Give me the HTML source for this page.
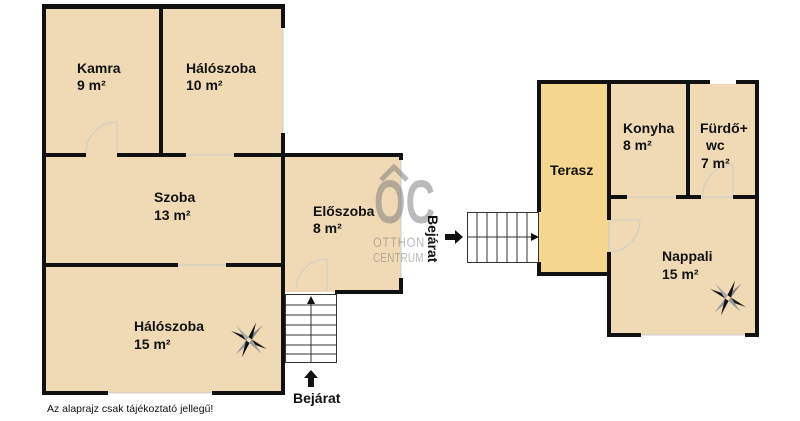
<!DOCTYPE html>
<html><head><meta charset="utf-8"><style>
html,body{margin:0;padding:0;background:#fff;width:800px;height:421px;overflow:hidden}
svg{display:block}
text{font-family:"Liberation Sans",Arial,sans-serif;font-weight:bold;font-size:14px;fill:#111}
</style></head><body>
<svg width="800" height="421" viewBox="0 0 800 421">
<defs>
<g id="comp">
<polygon points="0,-3 -16,-12 -3,0" fill="#111"/>
<polygon points="0,-3 16,-12 3,0" fill="#888"/>
<polygon points="3,0 16,12 0,3" fill="#111"/>
<polygon points="-3,0 -16,12 0,3" fill="#999"/>
<polygon points="-3,0 -10,-16 0,-3" fill="#aaa"/>
<polygon points="0,-3 10,-16 3,0" fill="#111"/>
<polygon points="3,0 10,16 0,3" fill="#999"/>
<polygon points="0,3 -10,16 -3,0" fill="#111"/>
</g>
</defs>
<rect x="44" y="6" width="239" height="387" fill="#f0dab6"/>
<rect x="283" y="155" width="118" height="137" fill="#f0dab6"/>
<rect x="539" y="82" width="70" height="192" fill="#f4d68e"/>
<rect x="609" y="82" width="148" height="253" fill="#f0dab6"/>

<g fill="#111">
<rect x="42" y="4" width="4" height="391"/>
<rect x="42" y="4" width="243" height="5"/>
<rect x="281" y="4" width="4" height="24"/>
<rect x="281" y="133" width="4" height="262"/>
<rect x="159" y="4" width="4" height="153"/>
<rect x="42" y="153" width="44" height="4"/>
<rect x="117" y="153" width="69" height="4"/>
<rect x="234" y="153" width="169" height="4"/>
<rect x="42" y="263" width="136" height="4"/>
<rect x="226" y="263" width="59" height="4"/>
<rect x="42" y="391" width="66" height="4"/>
<rect x="212" y="391" width="73" height="4"/>
<rect x="399" y="153" width="4" height="7"/>
<rect x="399" y="278" width="4" height="16"/>
<rect x="335" y="290" width="68" height="4"/>
<rect x="537" y="80" width="222" height="4"/>
<rect x="710" y="80" width="26" height="4" fill="#fff"/>
<rect x="537" y="80" width="4" height="132"/>
<rect x="537" y="262" width="4" height="14"/>
<rect x="537" y="272" width="74" height="4"/>
<rect x="755" y="80" width="4" height="257"/>
<rect x="607" y="80" width="4" height="140"/>
<rect x="607" y="252" width="4" height="85"/>
<rect x="686" y="80" width="4" height="119"/>
<rect x="607" y="195" width="20" height="4"/>
<rect x="676" y="195" width="25" height="4"/>
<rect x="733" y="195" width="26" height="4"/>
<rect x="607" y="333" width="34" height="4"/>
<rect x="745" y="333" width="14" height="4"/>
</g>
<g stroke="#ccc" stroke-width="1" fill="none">
<line x1="283" y1="28" x2="283" y2="133"/>
<line x1="401" y1="160" x2="401" y2="278"/>
<line x1="108" y1="393" x2="212" y2="393"/>
<line x1="178" y1="265" x2="226" y2="265"/>
<line x1="186" y1="155" x2="234" y2="155"/>
<line x1="641" y1="335" x2="745" y2="335"/>
<line x1="609" y1="220" x2="609" y2="252"/>
<line x1="627" y1="197" x2="676" y2="197"/>
<line x1="701" y1="197" x2="733" y2="197"/>
<path d="M86 153 A31 31 0 0 1 117 122 L117 153"/>
<path d="M296 290 A31 31 0 0 1 327 259 L327 290"/>
<path d="M611 252 A32 32 0 0 0 640 220 L611 220"/>
<path d="M703 195 A30 30 0 0 1 733 165 L733 195"/>
</g>
<rect x="285.5" y="294.5" width="51" height="68" fill="#fff" stroke="#333"/>
<g stroke="#333" stroke-width="1">
<line x1="311" y1="300" x2="311" y2="363"/>
<line x1="285" y1="305" x2="337" y2="305"/>
<line x1="285" y1="315" x2="337" y2="315"/>
<line x1="285" y1="325" x2="337" y2="325"/>
<line x1="285" y1="335" x2="337" y2="335"/>
<line x1="285" y1="345" x2="337" y2="345"/>
<line x1="285" y1="354" x2="337" y2="354"/>
</g>
<polygon points="311,296 307,304 315,304" fill="#111"/>
<rect x="467.5" y="212.5" width="71" height="50" fill="#fff" stroke="#333"/>
<g stroke="#333">
<line x1="467" y1="237" x2="533" y2="237"/>
<line x1="477" y1="212" x2="477" y2="263"/>
<line x1="487" y1="212" x2="487" y2="263"/>
<line x1="497" y1="212" x2="497" y2="263"/>
<line x1="507" y1="212" x2="507" y2="263"/>
<line x1="517" y1="212" x2="517" y2="263"/>
<line x1="527" y1="212" x2="527" y2="263"/>
</g>
<polygon points="539,237 531,233 531,241" fill="#111"/>
<polygon points="445,234 455,234 455,230 463,237 455,244 455,240 445,240" fill="#111"/>
<polygon points="308,387 308,378 304,378 311,370 318,378 314,378 314,387" fill="#111"/>
<use href="#comp" transform="translate(249,340) rotate(-10)"/>
<use href="#comp" transform="translate(728,298) rotate(-10)"/>
<g opacity="0.5">
<path d="M381 180 L394 167 L407 180" stroke="#777" stroke-width="5" fill="none"/>
<text transform="translate(374,223) scale(0.7,1.05)" style="font-size:58px;font-weight:bold;fill:#777">OC</text>
<text transform="translate(373,247) scale(0.8,1)" style="font-size:14px;font-weight:normal;fill:#777;letter-spacing:1px">OTTHON</text>
<text transform="translate(373,262) scale(0.78,1)" style="font-size:13px;font-weight:normal;fill:#777">CENTRUM</text>
</g>
<text x="77" y="73">Kamra</text>
<text x="77" y="90">9 m²</text>
<text x="186" y="73">Hálószoba</text>
<text x="186" y="90">10 m²</text>
<text x="154" y="202">Szoba</text>
<text x="154" y="220">13 m²</text>
<text x="313" y="216">Előszoba</text>
<text x="313" y="233">8 m²</text>
<text x="134" y="331">Hálószoba</text>
<text x="134" y="349">15 m²</text>
<text x="293" y="403">Bejárat</text>
<text transform="translate(428,215) rotate(90)">Bejárat</text>
<text x="550" y="175">Terasz</text>
<text x="623" y="133">Konyha</text>
<text x="623" y="150">8 m²</text>
<text x="700" y="133">Fürdő+</text>
<text x="706" y="150">wc</text>
<text x="701" y="168">7 m²</text>
<text x="662" y="261">Nappali</text>
<text x="662" y="279">15 m²</text>
<text x="47" y="412" style="font-size:10.5px;font-weight:normal">Az alaprajz csak tájékoztató jellegű!</text>
</svg>
</body></html>
